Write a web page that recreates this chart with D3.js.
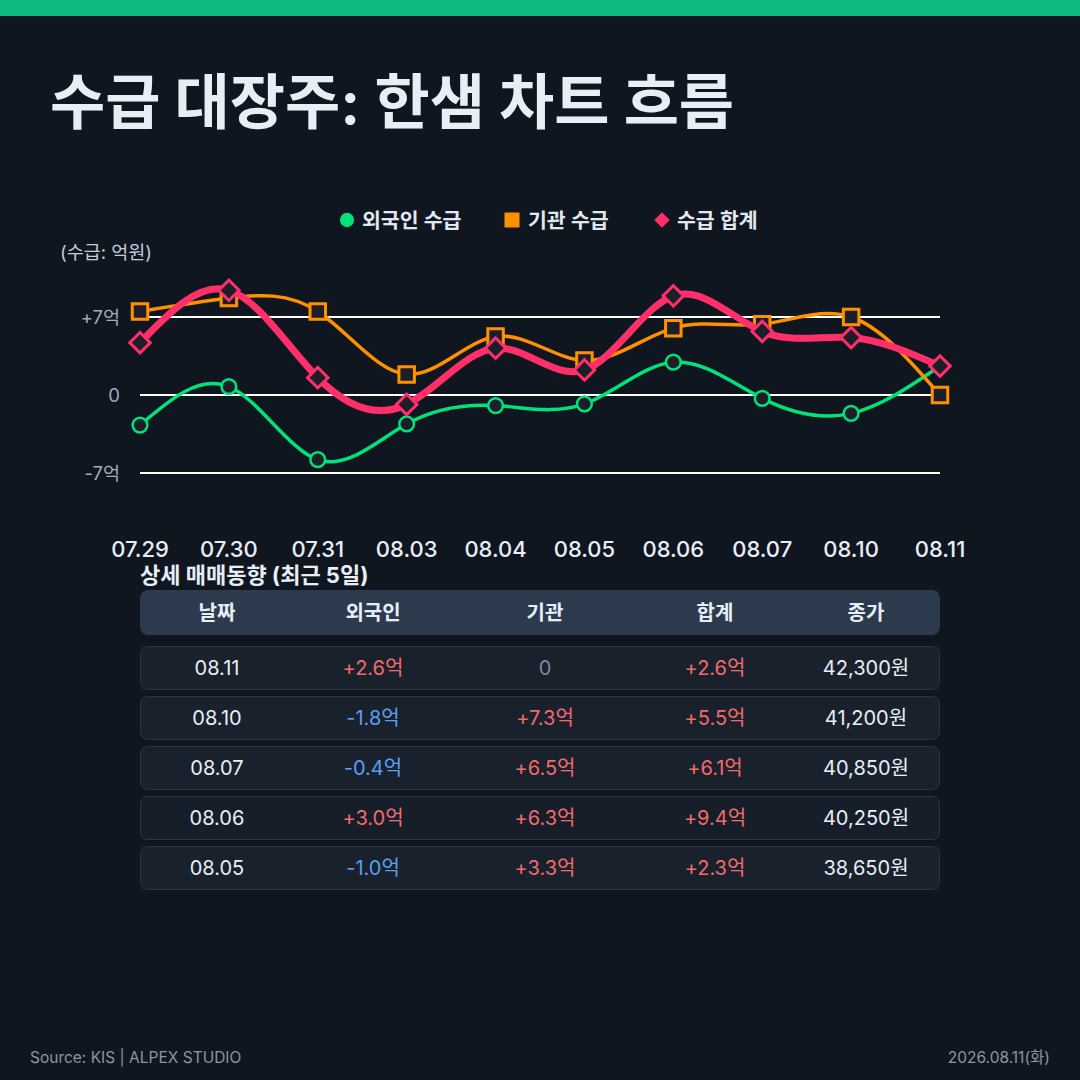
<!DOCTYPE html>
<html lang="ko">
<head>
<meta charset="utf-8">
<title>수급 대장주: 한샘 차트 흐름</title>
<script src="https://cdn.jsdelivr.net/npm/d3@7"></script>
<style>
  html, body { margin: 0; padding: 0; background: #0f1620; }
  svg { display: block; }
  text { font-family: Inter, "Noto Sans CJK KR", "Noto Sans", sans-serif; }
</style>
</head>
<body>
<div id="chart"></div>
<script>
// ---- data (억원) ----
var dates   = ["07.29", "07.30", "07.31", "08.03", "08.04", "08.05", "08.06", "08.07", "08.10", "08.11"];
var foreign = [-2.7, 0.75, -5.8, -2.6, -0.95, -0.8, 2.95, -0.3, -1.65, 2.6];
var inst    = [7.5, 8.7, 7.5, 1.85, 5.25, 3.1, 6.0, 6.35, 7.0, 0];
var total   = [4.7, 9.4, 1.55, -0.85, 4.2, 2.25, 8.9, 5.7, 5.15, 2.6];
var yTicks  = [-7, 0, 7];

// table: last 5 days
var tableHead    = ["날짜", "외국인", "기관", "합계", "종가"];
var tableDates   = ["08.11", "08.10", "08.07", "08.06", "08.05"];
var tableForeign = [2.6, -1.8, -0.4, 3.0, -1.0];
var tableInst    = [0, 7.3, 6.5, 6.3, 3.3];
var tableTotal   = [2.6, 5.5, 6.1, 9.4, 2.3];
var tableClose   = [42300, 41200, 40850, 40250, 38650];

var W = 1080, H = 1080;
var BG = "#0f1620";
var MARK_FILL = "#1e1e2a";

var svg = d3.select("#chart").append("svg")
    .attr("width", W)
    .attr("height", H);

svg.append("rect").attr("width", W).attr("height", H).attr("fill", BG);
svg.append("rect").attr("width", W).attr("height", 16).attr("fill", "#10b981");

// title
svg.append("text")
    .attr("x", 50).attr("y", 124)
    .attr("font-family", "'Noto Sans CJK KR', sans-serif")
    .attr("font-size", 60).attr("font-weight", 700)
    .attr("fill", "#e8eef6")
    .text("수급 대장주: 한샘 차트 흐름");

// ---- chart ----
var x = d3.scalePoint().domain(dates).range([140, 940]);
var y = d3.scaleLinear().domain([-7, 7]).range([473, 317]);

var series = [
    { name: "외국인 수급", values: foreign, color: "#00e27a", width: 3.5, shape: "circle" },
    { name: "기관 수급",   values: inst,    color: "#ff9100", width: 3.5, shape: "square" },
    { name: "수급 합계",   values: total,   color: "#ff2f6a", width: 7, shape: "diamond" }
];

// gridlines
svg.append("g").selectAll("line")
    .data(yTicks)
    .enter().append("line")
    .attr("x1", x.range()[0]).attr("x2", x.range()[1])
    .attr("y1", d => y(d)).attr("y2", d => y(d))
    .attr("stroke", "#ffffff")
    .attr("stroke-width", 2);

svg.append("g").selectAll("text")
    .data(yTicks)
    .enter().append("text")
    .attr("x", 120).attr("y", d => y(d) + 6.5)
    .attr("text-anchor", "end")
    .attr("font-size", 18.5)
    .attr("fill", "#a3adbb")
    .text(d => d > 0 ? "+" + d + "억" : d < 0 ? d + "억" : "0");

svg.append("text")
    .attr("x", 60).attr("y", 259)
    .attr("font-size", 18.5)
    .attr("fill", "#c5cdd8")
    .text("(수급: 억원)");

// x labels
svg.append("g").selectAll("text")
    .data(dates)
    .enter().append("text")
    .attr("x", d => x(d)).attr("y", 557)
    .attr("text-anchor", "middle")
    .attr("font-size", 22).attr("font-weight", 500)
    .attr("fill", "#e8eef6")
    .text(d => d);

var line = d3.line()
    .x((d, i) => x(dates[i]))
    .y(d => y(d))
    .curve(d3.curveNatural);

var symbolFor = {
    circle: d3.symbol().type(d3.symbolCircle).size(170),
    square: d3.symbol().type(d3.symbolSquare).size(240),
    diamond: d3.symbol().type(d3.symbolSquare).size(210)
};

series.forEach(function(s) {
    var g = svg.append("g");
    g.append("path")
        .attr("d", line(s.values))
        .attr("fill", "none")
        .attr("stroke", s.color)
        .attr("stroke-width", s.width)
        .attr("stroke-linejoin", "round")
        .attr("stroke-linecap", "round");

    g.selectAll("path.mark")
        .data(s.values)
        .enter().append("path")
        .attr("class", "mark")
        .attr("d", symbolFor[s.shape])
        .attr("transform", function(d, i) {
            var t = "translate(" + x(dates[i]) + "," + y(d) + ")";
            return s.shape == "diamond" ? t + " rotate(45)" : t;
        })
        .attr("fill", MARK_FILL)
        .attr("stroke", s.color)
        .attr("stroke-width", s.shape == "circle" ? 2.5 : 3);
});

// legend
var legendX = [347, 512, 662];
var legend = svg.append("g").selectAll("g")
    .data(series)
    .enter().append("g")
    .attr("transform", (d, i) => "translate(" + legendX[i] + ",220)");

legend.append("path")
    .attr("d", function(d) {
        if (d.shape == "circle") return d3.symbol().type(d3.symbolCircle).size(160)();
        if (d.shape == "square") return d3.symbol().type(d3.symbolSquare).size(225)();
        return d3.symbol().type(d3.symbolSquare).size(120)();
    })
    .attr("transform", d => d.shape == "diamond" ? "rotate(45)" : null)
    .attr("fill", d => d.color);

legend.append("text")
    .attr("x", d => d.shape == "square" ? 16 : 15)
    .attr("y", 7.5)
    .attr("font-size", 20.5).attr("font-weight", 600)
    .attr("fill", "#e2e8f0")
    .text(d => d.name);

// ---- table ----
svg.append("text")
    .attr("x", 140).attr("y", 583)
    .attr("font-size", 22).attr("font-weight", 700)
    .attr("fill", "#e8eef6")
    .text("상세 매매동향 (최근 5일)");

var colWidths = [154, 158, 186, 154, 148];
var colStarts = d3.cumsum([140].concat(colWidths));
var colX = tableHead.map((h, i) => colStarts[i] + colWidths[i] / 2);

svg.append("rect")
    .attr("x", 140).attr("y", 590)
    .attr("width", 800).attr("height", 45)
    .attr("rx", 8)
    .attr("fill", "#2c3a4e");

svg.append("g").selectAll("text")
    .data(tableHead)
    .enter().append("text")
    .attr("x", (d, i) => colX[i]).attr("y", 619.5)
    .attr("text-anchor", "middle")
    .attr("font-size", 20).attr("font-weight", 600)
    .attr("fill", "#e8eef6")
    .text(d => d);

var rowY = d3.scaleBand().domain(tableDates).range([646, 890]).paddingInner(0.12);

function fmtFlow(v) {
    if (v == 0) return "0";
    return (v > 0 ? "+" : "") + v.toFixed(1) + "억";
}
function flowColor(v) {
    if (v == 0) return "#7d8b9c";
    return v > 0 ? "#f26b6b" : "#5a9ff0";
}
var fmtPrice = d3.format(",");

var rows = svg.append("g").selectAll("g")
    .data(tableDates)
    .enter().append("g")
    .attr("transform", d => "translate(0," + rowY(d) + ")");

rows.append("rect")
    .attr("x", 140.5).attr("y", 0.5)
    .attr("width", 799).attr("height", rowY.bandwidth() - 1)
    .attr("rx", 7)
    .attr("fill", (d, i) => i == 3 ? "#161e2a" : "#19212d")
    .attr("stroke", "#2b3545")
    .attr("stroke-width", 1);

rows.each(function(d, i) {
    var cells = [
        { t: d, c: "#e8eef6" },
        { t: fmtFlow(tableForeign[i]), c: flowColor(tableForeign[i]) },
        { t: fmtFlow(tableInst[i]), c: flowColor(tableInst[i]) },
        { t: fmtFlow(tableTotal[i]), c: flowColor(tableTotal[i]) },
        { t: fmtPrice(tableClose[i]) + "원", c: "#e8eef6" }
    ];
    d3.select(this).selectAll("text")
        .data(cells)
        .enter().append("text")
        .attr("x", (c, j) => colX[j]).attr("y", rowY.bandwidth() / 2 + 7)
        .attr("text-anchor", "middle")
        .attr("font-size", 20)
        .attr("fill", c => c.c)
        .text(c => c.t);
});

// footer
svg.append("text")
    .attr("x", 30).attr("y", 1063)
    .attr("font-size", 15.5)
    .attr("fill", "#8a95a5")
    .text("Source: KIS | ALPEX STUDIO");

svg.append("text")
    .attr("x", 1050).attr("y", 1063)
    .attr("text-anchor", "end")
    .attr("font-size", 15.5)
    .attr("fill", "#8a95a5")
    .text("2026.08.11(화)");
</script>
</body>
</html>
